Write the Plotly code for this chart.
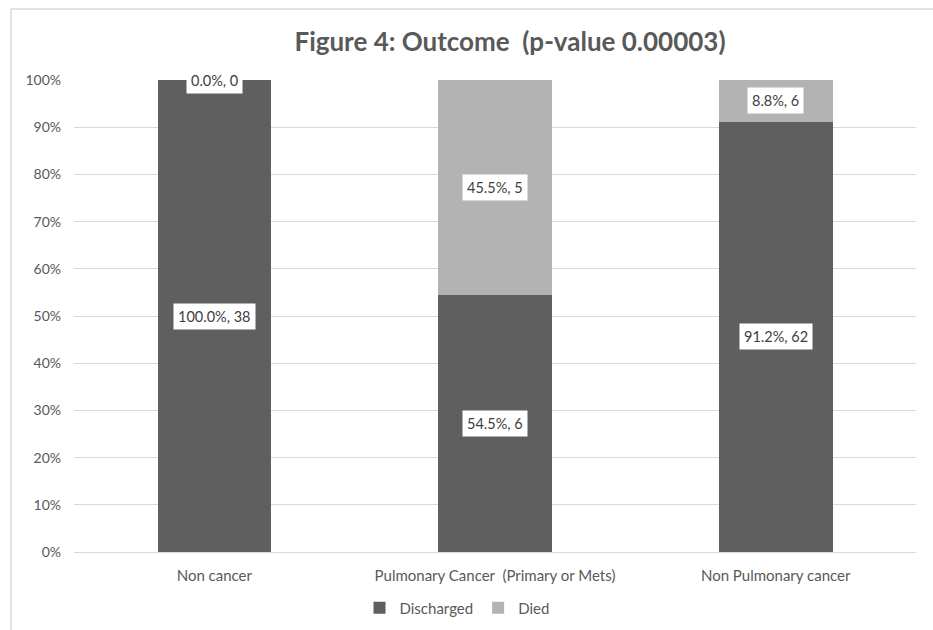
import plotly.graph_objects as go

categories = ["Non cancer", "Pulmonary Cancer\u00a0 (Primary or Mets)", "Non Pulmonary cancer"]
discharged_pct = [100.0, 54.5, 91.2]
discharged_n = [38, 6, 62]
died_pct = [0.0, 45.5, 8.8]
died_n = [0, 5, 6]
tick_vals = [0, 10, 20, 30, 40, 50, 60, 70, 80, 90, 100]
tick_text = [f"{v}%" for v in tick_vals]

FONT = "Lato, 'Open Sans', sans-serif"
TXT = "#595959"

fig = go.Figure()
fig.add_trace(go.Bar(x=categories, y=discharged_pct, name="Discharged",
                     marker=dict(color="#5f5f5f", line=dict(width=0)), width=0.405))
fig.add_trace(go.Bar(x=categories, y=died_pct, name="Died",
                     marker=dict(color="#b3b3b3", line=dict(width=0)), width=0.405))

# data labels with white boxes
for i, c in enumerate(categories):
    d, dd = discharged_pct[i], died_pct[i]
    fig.add_annotation(x=c, y=d / 2, text=f"{d:.1f}%, {discharged_n[i]}",
                       showarrow=False, bgcolor="white", borderpad=4,
                       font=dict(size=14.5, color="#404040", family=FONT))
    fig.add_annotation(x=c, y=d + dd / 2, text=f"{dd:.1f}%, {died_n[i]}",
                       showarrow=False, bgcolor="white", borderpad=4,
                       font=dict(size=14.5, color="#404040", family=FONT))

l, r, t, b = 74, 17, 80, 78
W, H = 933, 630
pw, ph = W - l - r, H - t - b
fx = (11 - l) / pw
fy = 1 + (t - 9) / ph
fig.add_shape(type="line", xref="paper", yref="paper", x0=fx, x1=fx, y0=-0.5, y1=fy,
              line=dict(color="#d9d9d9", width=1.5))
fig.add_shape(type="line", xref="paper", yref="paper", x0=fx, x1=1.2, y0=fy, y1=fy,
              line=dict(color="#d9d9d9", width=1.5))

fig.update_layout(
    width=W, height=H,
    barmode="stack", bargap=0.595,
    margin=dict(l=l, r=r, t=t, b=b, autoexpand=False),
    paper_bgcolor="white", plot_bgcolor="white",
    font=dict(family=FONT, color=TXT, size=14),
    title=dict(text="<b>Figure 4: Outcome\u00a0 (p-value 0.00003)</b>",
               x=(510) / W, xanchor="center", y=1 - 42 / H, yanchor="middle",
               font=dict(size=26, color=TXT, family=FONT)),
    xaxis=dict(showgrid=False, showline=True, linecolor="#d9d9d9", linewidth=1,
               tickfont=dict(size=15, color=TXT), ticks="", ticklabelstandoff=10,
               automargin=False),
    yaxis=dict(range=[0, 100], tickvals=tick_vals, ticktext=tick_text,
               showgrid=True, gridcolor="#d9d9d9", gridwidth=1, zeroline=False,
               tickfont=dict(size=14, color=TXT), ticklabelstandoff=12,
               automargin=False),
    legend=dict(orientation="h", x=(457 - l) / pw, xanchor="center",
                y=-(608 - 552) / ph, yanchor="middle", traceorder="normal",
                font=dict(size=15, color=TXT), itemwidth=30),
    showlegend=True,
)

fig.write_html("out.html")
